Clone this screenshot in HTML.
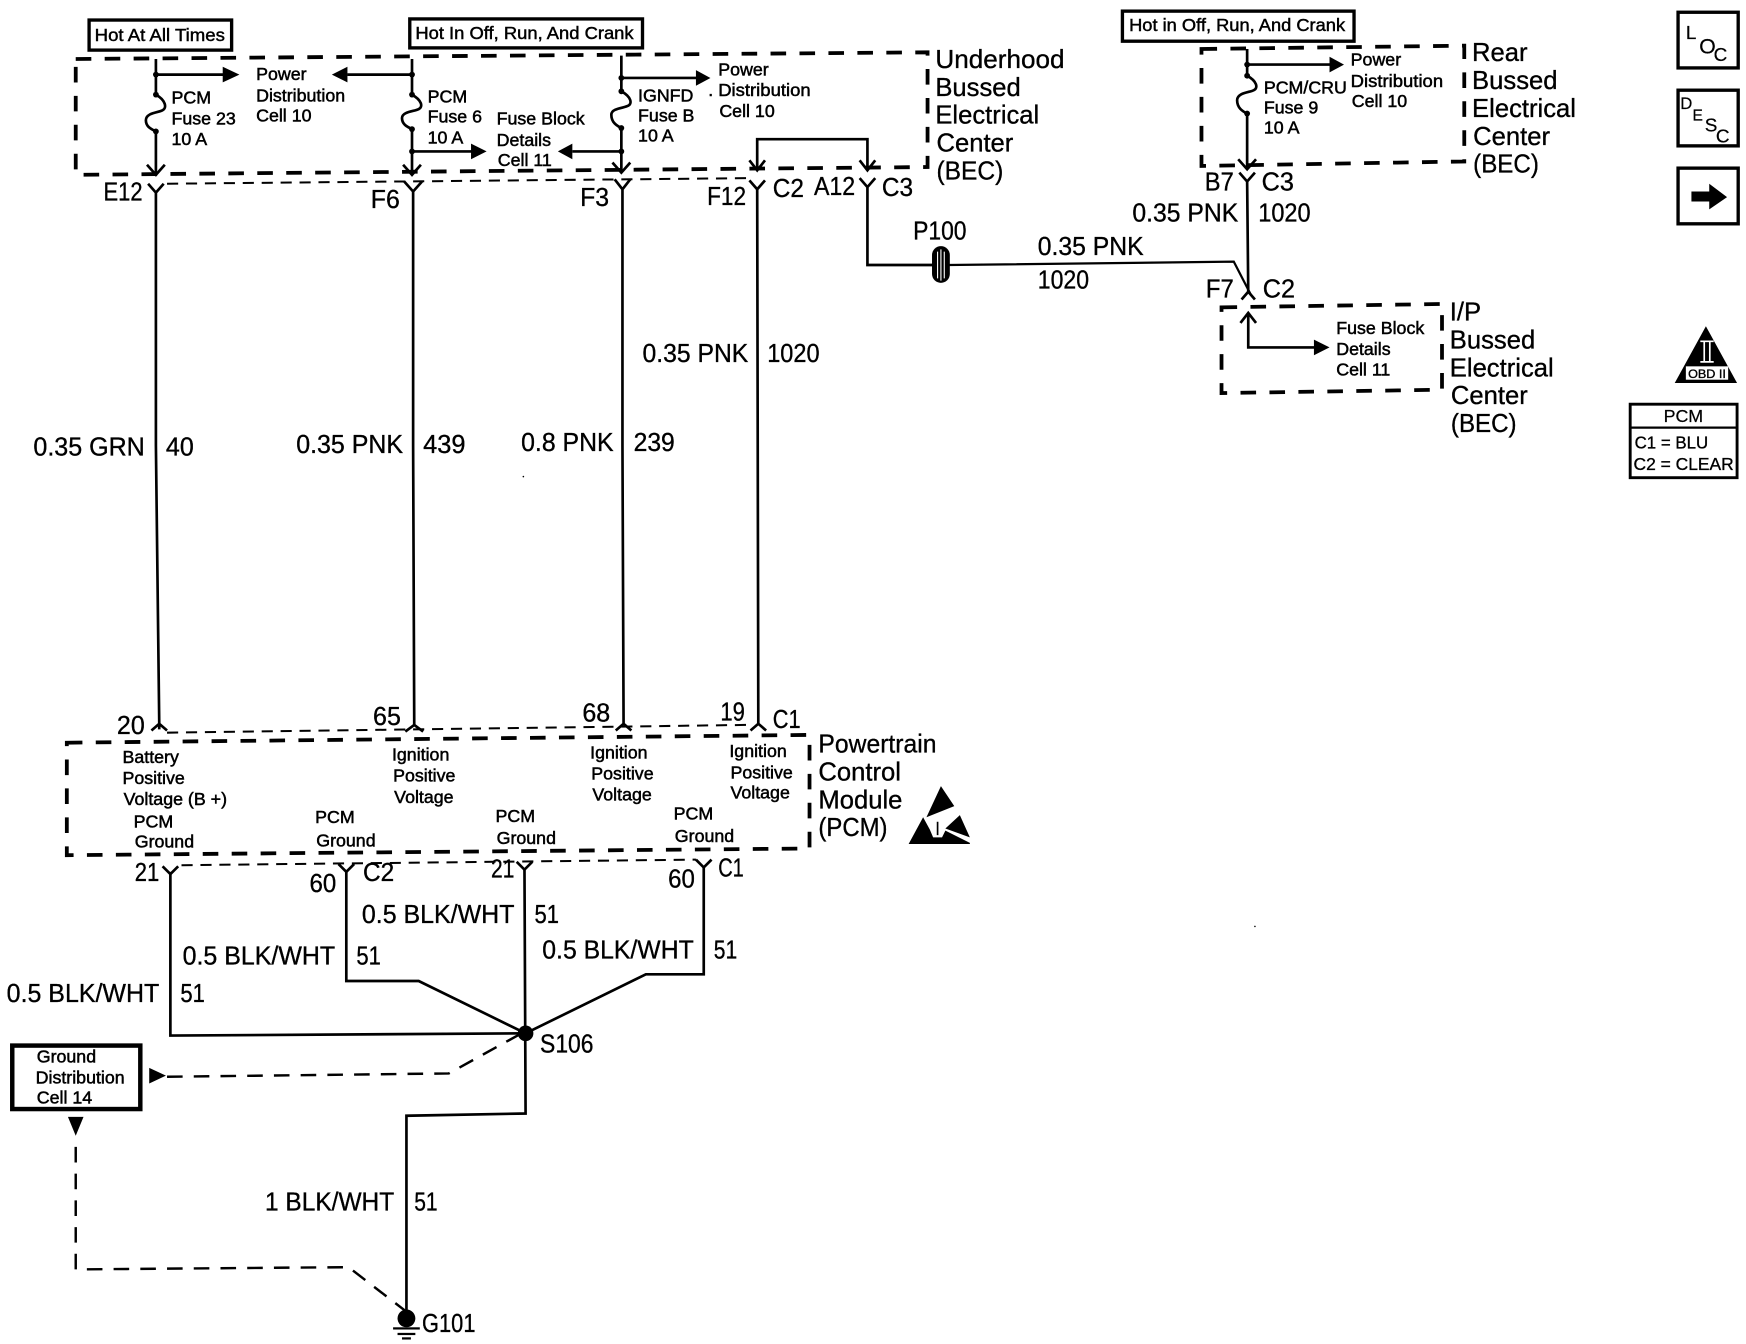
<!DOCTYPE html>
<html><head><meta charset="utf-8"><style>
html,body{margin:0;padding:0;background:#fff}
svg{display:block}
text{font-family:"Liberation Sans",sans-serif;fill:#000;stroke:#000}
.s{font-size:16px;stroke-width:.45px}
.l{font-size:23px;stroke-width:.3px}
.m{font-size:15.5px;stroke-width:.4px}
.w{fill:none;stroke:#000;stroke-width:2.4}
.d{fill:none;stroke:#000;stroke-width:3.4;stroke-dasharray:14 12}
.t{fill:none;stroke:#000;stroke-width:1.8;stroke-dasharray:10 7}
.g{fill:none;stroke:#000;stroke-width:2.2;stroke-dasharray:14 10}
.b{fill:#fff;stroke:#000;stroke-width:3}
</style></head><body>
<svg xmlns="http://www.w3.org/2000/svg" width="1746" height="1344" viewBox="0 0 1568 1207">
<rect width="1568" height="1207" fill="#fff"/>

<!-- header boxes -->
<rect class="b" x="80" y="18" width="128" height="27"/>
<text class="m" x="85" y="37" textLength="117" lengthAdjust="spacingAndGlyphs">Hot At All Times</text>
<rect class="b" x="368" y="17" width="209" height="26"/>
<text class="m" x="373" y="35" textLength="196" lengthAdjust="spacingAndGlyphs">Hot In Off, Run, And Crank</text>
<rect class="b" x="1008" y="10" width="208" height="27"/>
<text class="m" x="1014" y="28" textLength="194" lengthAdjust="spacingAndGlyphs">Hot in Off, Run, And Crank</text>

<!-- dashed housings -->
<path class="d" d="M68,53L833,47V150L68,157Z"/>
<path class="d" d="M1079,44L1315,41V145L1079,149Z"/>
<path class="d" d="M1097,276L1295,273V350L1097,353Z"/>
<path class="d" d="M60,667L727,660V762L60,768Z"/>
<path class="t" d="M150,165L672,160"/>
<path class="t" d="M150,658L672,651"/>
<path class="t" d="M163,777L625,772"/>

<!-- wires: top to PCM -->
<g class="w">
<path class="w" d="M140,53V85C149,90 150,97 146,99C143,101 131,101 131,108C131,114 136,116 140,118V157"/>
<path class="w" d="M132,148L140,157L148,148"/>
<path class="w" d="M140,67H202"/>
<path class="w" d="M370,53V85C379,90 380,96 376,98C373,100 361,100 361,106C361,112 366,114 370,116V157"/>
<path class="w" d="M362,148L370,157L378,148"/>
<path class="w" d="M370,67H312"/>
<path class="w" d="M370,136H426"/>
<path class="w" d="M558,50V82C567,87 568,93 564,95C561,97 549,97 549,103C549,110 554,113 558,115V155"/>
<path class="w" d="M550,146L558,155L566,146"/>
<path class="w" d="M558,70H626"/>
<path class="w" d="M558,136H514"/>
<path class="w" d="M680,153V125H779V153"/>
<path class="w" d="M673,144L680,153L687,144M772,144L779,153L786,144"/>
<path class="w" d="M133,165L140,173L147,165M140,173V400L143,650V655M136,656L143,650L150,656"/>
<path class="w" d="M363,163L371,172L379,163M371,172V400L372,651M364,657L372,651L380,657"/>
<path class="w" d="M552,161L559,170L566,161M559,170V400L560,650M553,656L560,650L567,656"/>
<path class="w" d="M673,162L680,170L687,162M680,170L681,650M674,656L681,650L688,656"/>
<path class="w" d="M772,160L779,168L786,160M779,168V238H838"/>
<path class="w" d="M852,238L1108,235L1123,264" style="stroke-width:2"/>
<path class="w" d="M1113,155L1120,163L1127,155M1120,163L1121,262M1115,269L1121,262L1127,269"/>
<path class="w" d="M1120,44V68C1129,73 1130,79 1126,81C1123,83 1111,83 1111,90C1111,97 1116,100 1120,102V152M1112,143L1120,152L1128,143"/>
<path class="w" d="M1120,58H1195"/>
<path class="w" d="M1121,282V312H1182M1114,290L1121,281L1128,290"/>
<path class="w" d="M153,783V930L472,928"/>
<path class="w" d="M311,783V881H376L472,928"/>
<path class="w" d="M471,780L472,1000L365,1002V1180"/>
<path class="w" d="M632,779V875H580L472,928"/>
<path class="w" d="M146,778L153,785L160,778M304,776L311,783L318,776M464,774L471,781L478,774M625,772L632,779L639,772"/>
</g>

<!-- fuse dots and arrowheads -->
<g fill="#000">
<circle cx="140" cy="67" r="2.6"/><circle cx="140" cy="85" r="2.6"/><circle cx="140" cy="118" r="2.6"/>
<circle cx="370" cy="67" r="2.6"/><circle cx="370" cy="85" r="2.6"/><circle cx="370" cy="116" r="2.6"/><circle cx="370" cy="136" r="2.6"/>
<circle cx="558" cy="70" r="2.6"/><circle cx="558" cy="82" r="2.6"/><circle cx="558" cy="115" r="2.6"/><circle cx="558" cy="136" r="2.6"/>
<circle cx="1120" cy="58" r="2.6"/><circle cx="1120" cy="68" r="2.6"/><circle cx="1120" cy="102" r="2.6"/>
<polygon points="200,60 215,67 200,74"/>
<polygon points="312,60 298,67 312,74"/>
<polygon points="423,129 437,136 423,143"/>
<polygon points="514,129 501,136 514,143"/>
<polygon points="625,63 638,70 625,77"/>
<polygon points="1194,51 1207,58 1194,65"/>
<polygon points="1180,305 1194,312 1180,319"/>
<circle cx="472" cy="928" r="7"/>
<circle cx="365" cy="1184" r="8"/>
<rect x="353" y="1192" width="24" height="2"/><rect x="357" y="1197" width="16" height="2"/><rect x="361" y="1201" width="8" height="2"/>
<polygon points="134,959 149,966 134,973"/>
<polygon points="61,1003 75,1003 68,1020"/>
<circle cx="470" cy="428" r=".7"/><circle cx="1127" cy="832" r=".7"/>
</g>

<!-- P100 -->
<rect x="837" y="221" width="16" height="33" rx="8" fill="#000"/>
<path d="M842,226V250M845,224V252M848,226V250" stroke="#fff" stroke-width="1"/>

<!-- dashed extras -->
<path class="g" d="M150,967L403,964L472,926"/>
<path class="g" d="M68,1030V1140L313,1138L365,1178"/>

<!-- ground box -->
<rect x="11" y="939" width="115" height="57" fill="#fff" stroke="#000" stroke-width="4"/>
<text class="s" x="33" y="954">Ground</text>
<text class="s" x="32" y="973">Distribution</text>
<text class="s" x="33" y="991">Cell 14</text>

<!-- small labels -->
<g>
<text class="s" x="154" y="93">PCM</text><text class="s" x="154" y="112">Fuse 23</text><text class="s" x="154" y="130">10 A</text>
<text class="s" x="230" y="72">Power</text><text class="s" x="230" y="91">Distribution</text><text class="s" x="230" y="109">Cell 10</text>
<text class="s" x="384" y="92">PCM</text><text class="s" x="384" y="110">Fuse 6</text><text class="s" x="384" y="129">10 A</text>
<text class="s" x="446" y="112">Fuse Block</text><text class="s" x="446" y="131">Details</text><text class="s" x="447" y="149">Cell 11</text>
<text class="s" x="573" y="91">IGNFD</text><text class="s" x="573" y="109">Fuse B</text><text class="s" x="573" y="127">10 A</text>
<text class="s" x="645" y="68">Power</text><text class="s" x="636" y="86">.</text><text class="s" x="645" y="86" textLength="83" lengthAdjust="spacingAndGlyphs">Distribution</text><text class="s" x="646" y="105">Cell 10</text>
<text class="s" x="1135" y="84">PCM/CRU</text><text class="s" x="1135" y="102">Fuse 9</text><text class="s" x="1135" y="120">10 A</text>
<text class="s" x="1213" y="59">Power</text><text class="s" x="1213" y="78" textLength="83" lengthAdjust="spacingAndGlyphs">Distribution</text><text class="s" x="1214" y="96">Cell 10</text>
<text class="s" x="1200" y="300">Fuse Block</text><text class="s" x="1200" y="319">Details</text><text class="s" x="1200" y="337">Cell 11</text>
<text class="s" x="110" y="685">Battery</text><text class="s" x="110" y="704">Positive</text><text class="s" x="111" y="723">Voltage (B +)</text>
<text class="s" x="120" y="743">PCM</text><text class="s" x="121" y="761">Ground</text>
<text class="s" x="352" y="683">Ignition</text><text class="s" x="353" y="702">Positive</text><text class="s" x="354" y="721">Voltage</text>
<text class="s" x="283" y="739">PCM</text><text class="s" x="284" y="760">Ground</text>
<text class="s" x="530" y="681">Ignition</text><text class="s" x="531" y="700">Positive</text><text class="s" x="532" y="719">Voltage</text>
<text class="s" x="445" y="738">PCM</text><text class="s" x="446" y="758">Ground</text>
<text class="s" x="655" y="680">Ignition</text><text class="s" x="656" y="699">Positive</text><text class="s" x="656" y="717">Voltage</text>
<text class="s" x="605" y="736">PCM</text><text class="s" x="606" y="756">Ground</text>
</g>

<!-- large labels -->
<text class="l" x="840" y="61" textLength="116" lengthAdjust="spacingAndGlyphs">Underhood</text><text class="l" x="840" y="86">Bussed</text><text class="l" x="840" y="111">Electrical</text><text class="l" x="841" y="136">Center</text><text class="l" x="841" y="161" textLength="60" lengthAdjust="spacingAndGlyphs">(BEC)</text>
<text class="l" x="1322" y="55">Rear</text><text class="l" x="1322" y="80">Bussed</text><text class="l" x="1322" y="105">Electrical</text><text class="l" x="1323" y="130">Center</text><text class="l" x="1323" y="155" textLength="59" lengthAdjust="spacingAndGlyphs">(BEC)</text>
<text class="l" x="1302" y="288">I/P</text><text class="l" x="1302" y="313">Bussed</text><text class="l" x="1302" y="338">Electrical</text><text class="l" x="1303" y="363">Center</text><text class="l" x="1303" y="388" textLength="59" lengthAdjust="spacingAndGlyphs">(BEC)</text>
<text class="l" x="735" y="676" textLength="106" lengthAdjust="spacingAndGlyphs">Powertrain</text><text class="l" x="735" y="701">Control</text><text class="l" x="735" y="726">Module</text><text class="l" x="735" y="751" textLength="62" lengthAdjust="spacingAndGlyphs">(PCM)</text>

<text class="l" x="93" y="180" textLength="35" lengthAdjust="spacingAndGlyphs">E12</text><text class="l" x="333" y="187" textLength="26" lengthAdjust="spacingAndGlyphs">F6</text><text class="l" x="521" y="185" textLength="26" lengthAdjust="spacingAndGlyphs">F3</text><text class="l" x="635" y="184" textLength="35" lengthAdjust="spacingAndGlyphs">F12</text>
<text class="l" x="694" y="177" textLength="28" lengthAdjust="spacingAndGlyphs">C2</text><text class="l" x="731" y="175" textLength="37" lengthAdjust="spacingAndGlyphs">A12</text><text class="l" x="792" y="176" textLength="28" lengthAdjust="spacingAndGlyphs">C3</text>
<text class="l" x="30" y="409" textLength="100" lengthAdjust="spacingAndGlyphs">0.35 GRN</text><text class="l" x="149" y="409" textLength="25" lengthAdjust="spacingAndGlyphs">40</text>
<text class="l" x="266" y="407" textLength="96" lengthAdjust="spacingAndGlyphs">0.35 PNK</text><text class="l" x="380" y="407" textLength="38" lengthAdjust="spacingAndGlyphs">439</text>
<text class="l" x="468" y="405" textLength="83" lengthAdjust="spacingAndGlyphs">0.8 PNK</text><text class="l" x="569" y="405" textLength="37" lengthAdjust="spacingAndGlyphs">239</text>
<text class="l" x="577" y="325" textLength="95" lengthAdjust="spacingAndGlyphs">0.35 PNK</text><text class="l" x="689" y="325" textLength="47" lengthAdjust="spacingAndGlyphs">1020</text>
<text class="l" x="105" y="659" textLength="25" lengthAdjust="spacingAndGlyphs">20</text><text class="l" x="335" y="651" textLength="25" lengthAdjust="spacingAndGlyphs">65</text><text class="l" x="523" y="648" textLength="25" lengthAdjust="spacingAndGlyphs">68</text><text class="l" x="647" y="647" textLength="22" lengthAdjust="spacingAndGlyphs">19</text><text class="l" x="694" y="654" textLength="25" lengthAdjust="spacingAndGlyphs">C1</text>
<text class="l" x="820" y="215" textLength="48" lengthAdjust="spacingAndGlyphs">P100</text><text class="l" x="932" y="229" textLength="95" lengthAdjust="spacingAndGlyphs">0.35 PNK</text><text class="l" x="932" y="259" textLength="46" lengthAdjust="spacingAndGlyphs">1020</text>
<text class="l" x="1082" y="171" textLength="26" lengthAdjust="spacingAndGlyphs">B7</text><text class="l" x="1133" y="171" textLength="29" lengthAdjust="spacingAndGlyphs">C3</text><text class="l" x="1017" y="199" textLength="95" lengthAdjust="spacingAndGlyphs">0.35 PNK</text><text class="l" x="1130" y="199" textLength="47" lengthAdjust="spacingAndGlyphs">1020</text>
<text class="l" x="1083" y="267" textLength="25" lengthAdjust="spacingAndGlyphs">F7</text><text class="l" x="1134" y="267" textLength="29" lengthAdjust="spacingAndGlyphs">C2</text>
<text class="l" x="121" y="791" textLength="22" lengthAdjust="spacingAndGlyphs">21</text><text class="l" x="278" y="801" textLength="24" lengthAdjust="spacingAndGlyphs">60</text><text class="l" x="326" y="791" textLength="28" lengthAdjust="spacingAndGlyphs">C2</text><text class="l" x="441" y="788" textLength="21" lengthAdjust="spacingAndGlyphs">21</text><text class="l" x="600" y="797" textLength="24" lengthAdjust="spacingAndGlyphs">60</text><text class="l" x="645" y="787" textLength="23" lengthAdjust="spacingAndGlyphs">C1</text>
<text class="l" x="325" y="829" textLength="137" lengthAdjust="spacingAndGlyphs">0.5 BLK/WHT</text><text class="l" x="480" y="829" textLength="22" lengthAdjust="spacingAndGlyphs">51</text>
<text class="l" x="164" y="866" textLength="137" lengthAdjust="spacingAndGlyphs">0.5 BLK/WHT</text><text class="l" x="320" y="866" textLength="22" lengthAdjust="spacingAndGlyphs">51</text>
<text class="l" x="6" y="900" textLength="137" lengthAdjust="spacingAndGlyphs">0.5 BLK/WHT</text><text class="l" x="162" y="900" textLength="22" lengthAdjust="spacingAndGlyphs">51</text>
<text class="l" x="487" y="861" textLength="136" lengthAdjust="spacingAndGlyphs">0.5 BLK/WHT</text><text class="l" x="641" y="861" textLength="21" lengthAdjust="spacingAndGlyphs">51</text>
<text class="l" x="485" y="945" textLength="48" lengthAdjust="spacingAndGlyphs">S106</text>
<text class="l" x="238" y="1087" textLength="116" lengthAdjust="spacingAndGlyphs">1 BLK/WHT</text><text class="l" x="372" y="1087" textLength="21" lengthAdjust="spacingAndGlyphs">51</text>
<text class="l" x="379" y="1196" textLength="48" lengthAdjust="spacingAndGlyphs">G101</text>

<!-- ESD symbol -->
<g fill="#000">
<polygon points="845,706 857,724 832,734"/>
<polygon points="862,732 871,752 849,744"/>
<polygon points="816,758 829,734 835,745 838,752 846,752 849,746 871,757 871,758"/>
</g>
<path d="M842,738V750" stroke="#000" stroke-width="1.5"/>

<!-- right icons -->
<rect class="b" x="1507" y="11" width="54" height="50"/>
<rect class="b" x="1507" y="81" width="54" height="50"/>
<rect class="b" x="1507" y="151" width="54" height="50"/>
<text x="1514" y="35" style="font-size:17px;stroke-width:.2px">L</text><text x="1526" y="48" style="font-size:19px;stroke-width:.2px">O</text><text x="1539" y="55" style="font-size:17px;stroke-width:.2px">C</text>
<text x="1509" y="98" style="stroke-width:.2px;font-size:15px">D</text><text x="1520" y="108" style="stroke-width:.2px;font-size:14px">E</text><text x="1531" y="118" style="stroke-width:.2px;font-size:17px">S</text><text x="1541" y="128" style="stroke-width:.2px;font-size:17px">C</text>
<polygon points="1519,172 1535,172 1535,165 1551,177 1535,188 1535,181 1519,181" fill="#000"/>
<polygon points="1532,293 1504,344 1560,344" fill="#000"/>
<rect x="1514" y="329" width="38" height="12" fill="#fff"/>
<path d="M1527,306.500H1539M1527,325H1539M1530.500,307V325M1535.500,307V325" stroke="#fff" stroke-width="1.500" fill="none"/>
<text x="1516" y="339.500" style="font-size:10.500px;stroke-width:.3px" textLength="34" lengthAdjust="spacingAndGlyphs">OBD II</text>
<rect x="1464" y="363" width="96" height="66" fill="#fff" stroke="#000" stroke-width="2.6"/>
<path d="M1464,384H1560" stroke="#000" stroke-width="2"/>
<text x="1494" y="379" style="font-size:16px;stroke-width:.2px">PCM</text>
<text x="1468" y="403" style="font-size:16px;stroke-width:.3px" textLength="66" lengthAdjust="spacingAndGlyphs">C1 = BLU</text>
<text x="1467" y="422" style="font-size:16px;stroke-width:.3px" textLength="90" lengthAdjust="spacingAndGlyphs">C2 = CLEAR</text>
</svg>
</body></html>
